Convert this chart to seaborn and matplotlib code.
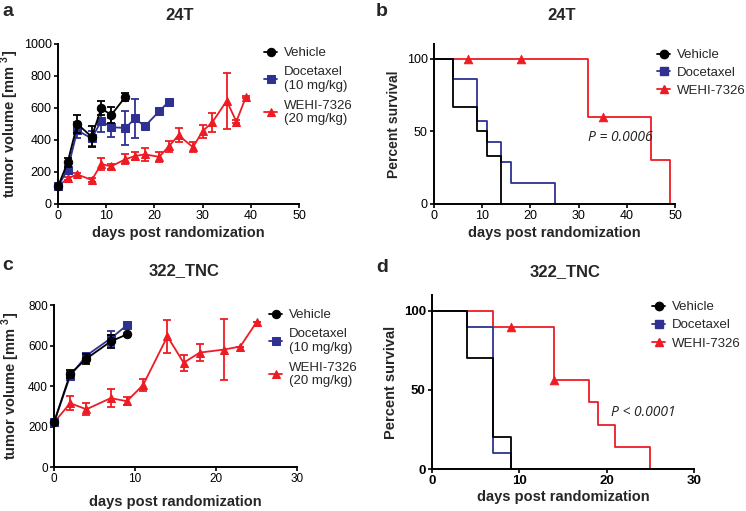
import matplotlib
matplotlib.use('Agg')
import matplotlib.pyplot as plt
import seaborn as sns
import pandas as pd

# colours used for the three groups
c_veh = '#000000'
c_doc = '#2e3192'
c_wehi = '#ed1c24'

# ---- panel a: 24T tumour volume ----
a_veh_day = [0, 2, 4, 7, 9, 11, 14]
a_veh_vol = [110, 260, 500, 420, 600, 555, 670]
a_veh_err = [0, 30, 55, 65, 45, 50, 25]
a_doc_day = [0, 2, 4, 7, 9, 11, 14, 16, 18, 21, 23]
a_doc_vol = [110, 215, 460, 410, 520, 480, 475, 535, 485, 580, 640]
a_doc_err = [0, 25, 50, 45, 70, 60, 105, 120, 15, 15, 10]
a_wehi_day = [0, 2, 4, 7, 9, 11, 14, 16, 18, 21, 23, 25, 28, 30, 32, 35, 37, 39]
a_wehi_vol = [110, 160, 185, 150, 250, 235, 280, 300, 310, 295, 360, 430, 355, 455, 510, 645, 515, 670]
a_wehi_err = [0, 10, 10, 10, 40, 15, 30, 25, 40, 30, 35, 45, 30, 40, 60, 175, 10, 5]

# ---- panel b: 24T survival ----
b_veh_t = [0, 4, 9, 11, 14]
b_veh_s = [100, 66.7, 50, 33.3, 0]
b_doc_t = [0, 4, 9, 11, 14, 16, 25]
b_doc_s = [100, 85.7, 57.1, 42.9, 28.6, 14.3, 0]
b_wehi_t = [0, 32, 45, 49]
b_wehi_s = [100, 60, 30, 0]
b_cens_t = [7, 18, 35]
b_cens_s = [100, 100, 60]

# ---- panel c: 322_TNC tumour volume ----
c_veh_day = [0, 2, 4, 7, 9]
c_veh_vol = [220, 460, 535, 620, 655]
c_veh_err = [0, 20, 25, 30, 0]
c_doc_day = [0, 2, 4, 7, 9]
c_doc_vol = [220, 450, 550, 635, 700]
c_doc_err = [0, 20, 15, 35, 0]
c_wehi_day = [0, 2, 4, 7, 9, 11, 14, 16, 18, 21, 23, 25]
c_wehi_vol = [220, 315, 285, 340, 325, 405, 645, 515, 565, 580, 595, 715]
c_wehi_err = [0, 35, 30, 45, 20, 30, 80, 40, 40, 150, 0, 0]

# ---- panel d: 322_TNC survival ----
d_veh_t = [0, 4, 7, 9]
d_veh_s = [100, 70, 20, 0]
d_doc_t = [0, 4, 7, 9]
d_doc_s = [100, 90, 10, 0]
d_wehi_t = [0, 7, 14, 18, 19, 21, 25]
d_wehi_s = [100, 90, 56.25, 42.2, 28.1, 14.1, 0]
d_cens_t = [9, 14]
d_cens_s = [90, 56.25]

sns.set_style('ticks')
plt.rcParams['font.family'] = ['Liberation Sans', 'DejaVu Sans']
plt.rcParams['mathtext.fontset'] = 'custom'
plt.rcParams['mathtext.rm'] = 'Liberation Sans'
plt.rcParams['mathtext.bf'] = 'Liberation Sans:bold'

W, H = 746, 511
fig = plt.figure(figsize=(W / 100, H / 100), dpi=100)

vol_label = r'tumor volume [mm $^{\mathbf{3}}$]'


def px_axes(left, top, right, bottom):
    # axes from pixel box (origin top-left)
    return fig.add_axes([left / W, 1 - bottom / H, (right - left) / W, (bottom - top) / H])


def style_axes(ax, tick_size, bold=False):
    sns.despine(ax=ax)
    for s in ['left', 'bottom']:
        ax.spines[s].set_linewidth(1.4)
        ax.spines[s].set_color('black')
    ax.tick_params(length=3, width=1.2, labelsize=tick_size, pad=1.5, colors='black')
    if bold:
        for lab in ax.get_xticklabels() + ax.get_yticklabels():
            lab.set_fontweight('bold')


def growth(ax, groups):
    for day, vol, err, col, mk, lab in groups:
        df = pd.DataFrame({'day': day, 'vol': vol})
        ax.errorbar(day, vol, yerr=err, fmt='none', ecolor=col, elinewidth=1.3,
                    capsize=3, capthick=1.3, clip_on=False)
        sns.lineplot(data=df, x='day', y='vol', color=col, marker=mk, markersize=6,
                     markeredgecolor=col, lw=1.3, label=lab, ax=ax, clip_on=False)


def survival(ax, groups, cens_t, cens_s):
    for t, s, col, mk, lab in groups:
        df = pd.DataFrame({'t': t, 's': s})
        sns.lineplot(data=df, x='t', y='s', color=col, lw=1.3, drawstyle='steps-post',
                     ax=ax, clip_on=False)
        ax.plot([], [], color=col, marker=mk, markersize=6, lw=1.3, label=lab)
    cdf = pd.DataFrame({'t': cens_t, 's': cens_s})
    sns.scatterplot(data=cdf, x='t', y='s', color=c_wehi, marker='^', s=40,
                    edgecolor=c_wehi, ax=ax, zorder=5, clip_on=False)


def legend(ax, x, y, spacing):
    h, l = ax.get_legend_handles_labels()
    ax.legend(h[::-1], l[::-1], loc='upper left', bbox_to_anchor=(x / W, 1 - y / H),
              bbox_transform=fig.transFigure, frameon=False, fontsize=9.5,
              handlelength=1.0, handletextpad=0.5, labelspacing=spacing,
              borderaxespad=0, borderpad=0)


# panel a
ax = px_axes(58, 44, 299, 204)
growth(ax, [(a_wehi_day, a_wehi_vol, a_wehi_err, c_wehi, '^', 'WEHI-7326\n(20 mg/kg)'),
            (a_doc_day, a_doc_vol, a_doc_err, c_doc, 's', 'Docetaxel\n(10 mg/kg)'),
            (a_veh_day, a_veh_vol, a_veh_err, c_veh, 'o', 'Vehicle')])
ax.set_xlim(0, 50)
ax.set_ylim(0, 1000)
ax.set_xticks(range(0, 51, 10))
ax.set_yticks(range(0, 1001, 200))
ax.set_xlabel('days post randomization', fontsize=10.5, fontweight='bold', labelpad=3)
ax.set_ylabel(vol_label, fontsize=10.5, fontweight='bold', labelpad=2)
style_axes(ax, 9)
legend(ax, 264, 47, 0.55)

# panel b
ax = px_axes(434, 44, 675, 204)
survival(ax, [(b_wehi_t, b_wehi_s, c_wehi, '^', 'WEHI-7326'),
              (b_doc_t, b_doc_s, c_doc, 's', 'Docetaxel'),
              (b_veh_t, b_veh_s, c_veh, 'o', 'Vehicle')], b_cens_t, b_cens_s)
ax.set_xlim(0, 50)
ax.set_ylim(0, 110)
ax.set_xticks(range(0, 51, 10))
ax.set_yticks([0, 50, 100])
ax.set_xlabel('days post randomization', fontsize=10.5, fontweight='bold', labelpad=3)
ax.set_ylabel('Percent survival', fontsize=10, fontweight='bold', labelpad=4)
style_axes(ax, 9)
ax.text(32, 46, 'P = 0.0006', fontsize=10, style='italic', color='#222222',
        family=['Open Sans', 'DejaVu Sans'], va='center')
legend(ax, 657, 49, 0.42)

# panel c
ax = px_axes(54, 305, 297, 467)
growth(ax, [(c_wehi_day, c_wehi_vol, c_wehi_err, c_wehi, '^', 'WEHI-7326\n(20 mg/kg)'),
            (c_doc_day, c_doc_vol, c_doc_err, c_doc, 's', 'Docetaxel\n(10 mg/kg)'),
            (c_veh_day, c_veh_vol, c_veh_err, c_veh, 'o', 'Vehicle')])
ax.set_xlim(0, 30)
ax.set_ylim(0, 800)
ax.set_xticks(range(0, 31, 10))
ax.set_yticks(range(0, 801, 200))
ax.set_xlabel('days post randomization', fontsize=10.5, fontweight='bold', labelpad=7)
ax.set_ylabel(vol_label, fontsize=10.5, fontweight='bold', labelpad=4)
style_axes(ax, 8.5)
legend(ax, 269, 309, 0.55)

# panel d
ax = px_axes(432, 295, 694, 469)
survival(ax, [(d_wehi_t, d_wehi_s, c_wehi, '^', 'WEHI-7326'),
              (d_doc_t, d_doc_s, c_doc, 's', 'Docetaxel'),
              (d_veh_t, d_veh_s, c_veh, 'o', 'Vehicle')], d_cens_t, d_cens_s)
ax.set_xlim(0, 30)
ax.set_ylim(0, 110)
ax.set_xticks(range(0, 31, 10))
ax.set_yticks([0, 50, 100])
ax.set_xlabel('days post randomization', fontsize=10.5, fontweight='bold', labelpad=2)
ax.set_ylabel('Percent survival', fontsize=10.5, fontweight='bold', labelpad=4)
style_axes(ax, 9.5, bold=True)
ax.text(20.5, 36, 'P < 0.0001', fontsize=10, style='italic', color='#222222',
        family=['Open Sans', 'DejaVu Sans'], va='center')
legend(ax, 652, 301, 0.45)

# titles and panel letters
for x, y, txt in [(180, 15, '24T'), (562, 15, '24T'), (184, 271, '322_TNC'), (565, 272, '322_TNC')]:
    fig.text(x / W, 1 - y / H, txt, fontsize=12, fontweight='bold', ha='center', va='center')
for x, y, txt in [(2, 12, 'a'), (376, 12, 'b'), (2, 266, 'c'), (376, 268, 'd')]:
    fig.text(x / W, 1 - y / H, txt, fontsize=14, fontweight='bold', ha='left', va='center')

fig.savefig('out.png', dpi=100)
